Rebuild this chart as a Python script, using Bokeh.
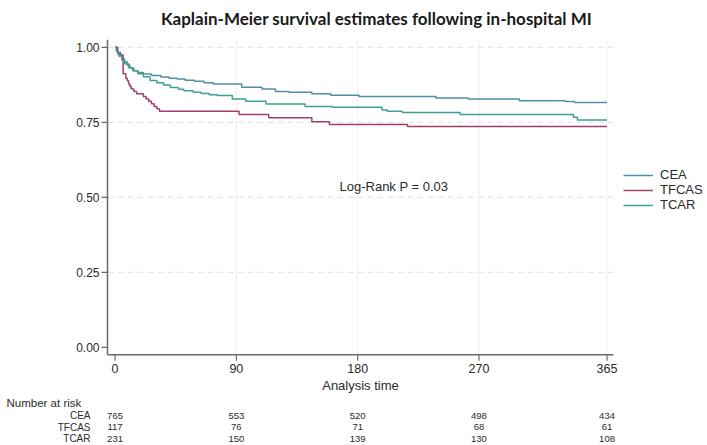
from bokeh.plotting import figure
from bokeh.models import Range1d, Legend, LegendItem
from bokeh.core.properties import value
from bokeh.embed import file_html
from bokeh.resources import INLINE

# ---------------- data ----------------
TITLE = "Kaplain-Meier survival estimates following in-hospital MI"
X_LABEL = "Analysis time"
ANNOT = "Log-Rank P = 0.03"
RISK_HEADER = "Number at risk"
groups = ["CEA", "TFCAS", "TCAR"]

cea_t = [0, 1, 2, 3, 5, 7, 9, 11, 14, 17, 21, 27, 34, 40, 46, 52, 59, 66, 73, 94, 109,
         119, 129, 146, 160, 181, 238, 262, 300, 334, 341, 365]
cea_s = [1.0, 0.99, 0.981, 0.972, 0.961, 0.952, 0.941, 0.931, 0.922, 0.916, 0.911, 0.906,
         0.901, 0.897, 0.894, 0.890, 0.887, 0.882, 0.878, 0.867, 0.861, 0.853, 0.850, 0.845,
         0.840, 0.836, 0.831, 0.828, 0.822, 0.819, 0.816, 0.816]

tfcas_t = [0, 2, 4, 6, 8, 9, 10, 11, 12, 14, 16, 21, 23, 25, 27, 29, 31, 33, 92, 114,
           146, 159, 217, 365]
tfcas_s = [1.0, 0.983, 0.974, 0.912, 0.897, 0.889, 0.878, 0.870, 0.861, 0.853, 0.845,
           0.836, 0.828, 0.820, 0.812, 0.803, 0.795, 0.787, 0.776, 0.765, 0.752, 0.743,
           0.736, 0.736]

tcar_t = [0, 1, 2, 3, 5, 7, 10, 13, 17, 21, 26, 31, 36, 41, 47, 51, 58, 64, 70, 76, 87,
          97, 112, 141, 161, 198, 202, 213, 256, 340, 343, 365]
tcar_s = [1.0, 0.987, 0.978, 0.970, 0.957, 0.945, 0.932, 0.922, 0.912, 0.902, 0.889, 0.882,
          0.874, 0.866, 0.860, 0.855, 0.850, 0.846, 0.842, 0.839, 0.828, 0.820, 0.811,
          0.803, 0.800, 0.791, 0.787, 0.783, 0.776, 0.767, 0.758, 0.758]

x_ticks = [0, 90, 180, 270, 365]
y_ticks = [0.0, 0.25, 0.5, 0.75, 1.0]

risk_times = [0, 90, 180, 270, 365]
risk_cea = [765, 553, 520, 498, 434]
risk_tfcas = [117, 76, 71, 68, 61]
risk_tcar = [231, 150, 139, 130, 108]

colors = ["#4f8ea8", "#9e3f6e", "#3fa093"]

# ---------------- layout (pixels of the 707x445 canvas) ----------------
W, H = 707, 445
L, R, T, B = 107, 613, 39.3, 354.3          # plot region in pixels
X0, X1 = -5.6, 369.8                        # day range of plot region
Y0, Y1 = -0.025, 1.025                      # survival range of plot region
dpp = (X1 - X0) / (R - L)                   # days per pixel
spp = (Y1 - Y0) / (B - T)                   # survival per pixel
x_start, x_end = X0 - L * dpp, X1 + (W - R) * dpp
y_start, y_end = Y0 - (H - B) * spp, Y1 + T * spp

def X(px):
    return x_start + px * dpp

def Y(py):
    return y_end - py * spp

FONT = "Liberation Sans"
TXT = "#2a2a2a"
AXC = "#6a6a6a"

p = figure(width=W, height=H, output_backend="svg", toolbar_location=None,
           x_range=Range1d(x_start, x_end), y_range=Range1d(y_start, y_end),
           x_axis_type=None, y_axis_type=None,
           min_border_left=0, min_border_right=0, min_border_top=0, min_border_bottom=0)
p.outline_line_color = None
p.xgrid.visible = False
p.ygrid.visible = False

# grid lines
gy = [t for t in y_ticks if t > 0]
p.segment(x0=[X0] * len(gy), x1=[X1] * len(gy), y0=gy, y1=gy,
          line_color="#e0e0e0", line_width=1, line_dash="6 4")
gx = [t for t in x_ticks if t > 0]
p.segment(x0=gx, x1=gx, y0=[Y0] * len(gx), y1=[Y1] * len(gx),
          line_color="#efefef", line_width=1)

# axes
p.segment(x0=[X0, X0], x1=[X0, X1], y0=[Y0, Y0], y1=[Y1, Y0],
          line_color=AXC, line_width=1.5)
p.segment(x0=[X0] * len(y_ticks), x1=[X0 - 6 * dpp] * len(y_ticks), y0=y_ticks, y1=y_ticks,
          line_color=AXC, line_width=1.2)
p.segment(x0=x_ticks, x1=x_ticks, y0=[Y0] * len(x_ticks), y1=[Y0 - 6 * spp] * len(x_ticks),
          line_color=AXC, line_width=1.2)
p.text(x=[X0 - 8 * dpp] * len(y_ticks), y=y_ticks, text=[f"{t:.2f}" for t in y_ticks],
       text_align="right", text_baseline="middle", text_font=value(FONT),
       text_font_size="12px", text_color=TXT)
p.text(x=x_ticks, y=[Y0 - 13.5 * spp] * len(x_ticks), text=[str(t) for t in x_ticks],
       text_align="center", text_baseline="middle", text_font=value(FONT),
       text_font_size="12.5px", text_color=TXT)
p.text(x=[(X0 + X1) / 2], y=[Y(385)], text=[X_LABEL], text_align="center",
       text_baseline="middle", text_font=value(FONT), text_font_size="13px", text_color=TXT)

# survival curves
series = [(cea_t, cea_s), (tfcas_t, tfcas_s), (tcar_t, tcar_s)]
renderers = []
for (t, s), c in zip(series, colors):
    renderers.append(p.step(t, s, mode="after", line_color=c, line_width=1.5))

legend = Legend(items=[LegendItem(label=g, renderers=[r]) for g, r in zip(groups, renderers)],
                location=(623, H - 212), orientation="vertical")
legend.glyph_width = 30
legend.glyph_height = 14
legend.label_height = 14
legend.spacing = 0
legend.padding = 0
legend.margin = 0
legend.label_standoff = 7
legend.label_text_font = FONT
legend.label_text_font_size = "13px"
legend.label_text_color = TXT
legend.border_line_color = None
legend.background_fill_alpha = 0
p.add_layout(legend, "center")

# title and annotation
p.text(x=[X(376)], y=[Y(18)], text=[TITLE], text_align="center", text_baseline="middle",
       text_font=value("Lato"), text_font_style="bold", text_font_size="17px",
       text_color="#1a1a1a")
p.text(x=[X(339)], y=[Y(186)], text=[ANNOT], text_align="left", text_baseline="middle",
       text_font=value(FONT), text_font_size="13px", text_color=TXT)

# number at risk table
p.text(x=[X(6)], y=[Y(402)], text=[RISK_HEADER], text_align="left", text_baseline="middle",
       text_font=value(FONT), text_font_size="11.5px", text_color=TXT)
rows = [risk_cea, risk_tfcas, risk_tcar]
row_y = [Y(415), Y(426.5), Y(438)]
p.text(x=[X(90)] * 3, y=row_y, text=groups, text_align="right", text_baseline="middle",
       text_font=value(FONT), text_font_size="10px", text_color=TXT)
for vals, ry in zip(rows, row_y):
    p.text(x=risk_times, y=[ry] * len(vals), text=[str(v) for v in vals],
           text_align="center", text_baseline="middle", text_font=value(FONT),
           text_font_size="9.5px", text_color=TXT)

open("out.html", "w").write(file_html(p, INLINE))
